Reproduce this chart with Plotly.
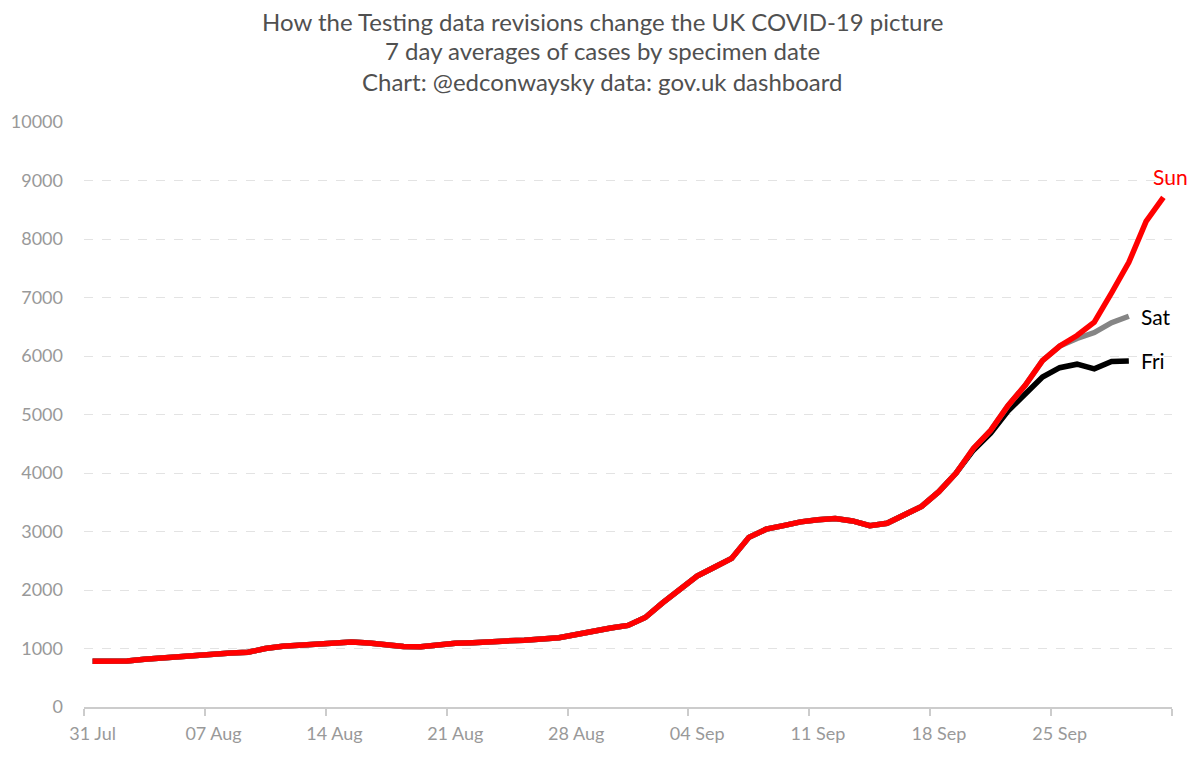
import pandas as pd
import plotly.graph_objects as go

# 7-day average cases by specimen date
start = "2020-07-31"

# history shared by all three releases (lines sit on top of each other)
common = [780, 780, 785, 815, 840, 850, 870, 905, 925, 935,
          1000, 1040, 1060, 1065, 1105, 1110, 1095, 1065, 1035, 1030,
          1070, 1090, 1100, 1125, 1130, 1140, 1165, 1185, 1240, 1300,
          1350, 1395, 1530, 1780, 2020, 2240, 2390, 2540, 2900, 3040,
          3100, 3165, 3200, 3220, 3180, 3100, 3140, 3280, 3430, 3680,
          4000]

fri_tail = [4390, 4680, 5060, 5340, 5640, 5800, 5860, 5780, 5905, 5915]
sat_tail = [4420, 4730, 5150, 5500, 5920, 6170, 6300, 6400, 6570, 6680]
sun_tail = [4420, 4730, 5150, 5500, 5920, 6170, 6350, 6580, 7080, 7600,
            8300, 8710]

fri = common + fri_tail
sat = common + sat_tail
sun = common + sun_tail

names = ["Fri", "Sat", "Sun"]
series = [fri, sat, sun]
colors = ["#000000", "#858585", "#FF0000"]
label_colors = ["#000000", "#000000", "#FF0000"]

title_lines = ["How the Testing data revisions change the UK COVID-19 picture",
               "7 day averages of cases by specimen date",
               "Chart: @edconwaysky data: gov.uk dashboard"]

FONT = "Lato"
# the page body adds an 8px margin, so the figure is drawn 8px smaller
PAD = 8
W, H = 1200 - PAD, 774 - PAD
T, B, L, R = 122 - PAD, 67, 84 - PAD, 28
plot_w = W - L - R
plot_h = H - T - B

fig = go.Figure()
for name, vals, col in zip(names, series, colors):
    dates = pd.date_range(start, periods=len(vals), freq="D")
    fig.add_trace(go.Scatter(x=dates, y=vals, mode="lines", name=name,
                             line=dict(color=col, width=5.5),
                             showlegend=False))

# end labels
for name, vals, col in zip(names, series, label_colors):
    last = pd.Timestamp(start) + pd.Timedelta(days=len(vals) - 1)
    if name == "Sun":
        fig.add_annotation(x=1, xref="paper", y=vals[-1], text=name,
                           showarrow=False, xanchor="right", yanchor="bottom",
                           xshift=18, yshift=6,
                           font=dict(family=FONT, size=21, color=col))
    else:
        fig.add_annotation(x=last, y=vals[-1], text=name, showarrow=False,
                           xanchor="left", yanchor="middle", xshift=10,
                           font=dict(family=FONT, size=21, color=col))

# title lines, centred at x=602 and these pixel heights of the screenshot
tx = (602 - PAD - L) / plot_w
for txt, ypx in zip(title_lines, [22, 51, 81]):
    fig.add_annotation(x=tx, xref="paper", y=1 + (T + PAD - ypx) / plot_h,
                       yref="paper", text=txt, showarrow=False,
                       xanchor="center", yanchor="middle", borderpad=0,
                       font=dict(family=FONT, size=24, color="#505050"))

x0 = pd.Timestamp(start) - pd.Timedelta(hours=12)
x1 = pd.Timestamp(start) + pd.Timedelta(days=len(sun) - 1, hours=12)

fig.update_layout(
    width=W, height=H,
    margin=dict(l=L, r=R, t=T, b=B),
    paper_bgcolor="white", plot_bgcolor="white",
    font=dict(family=FONT, color="#999999"),
)
fig.update_xaxes(
    range=[x0, x1], showgrid=False, automargin=False,
    showline=True, linecolor="#cccccc", linewidth=1.5,
    tickvals=pd.date_range(start, x1, freq="7D"),
    tickformat="%d %b", ticks="", ticklen=0,
    tickfont=dict(family=FONT, size=18, color="#999999"),
    ticklabelstandoff=10,
    minor=dict(ticks="outside", ticklen=7, tickcolor="#cccccc", tickwidth=1.5,
               tick0=x0, dtick=7 * 24 * 3600 * 1000, showgrid=False),
)
fig.update_yaxes(
    range=[0, 10000], dtick=1000, tickformat="d", automargin=False,
    showgrid=True, gridcolor="#e3e3e3", griddash="dash", gridwidth=1,
    zeroline=False, showline=False, ticks="",
    tickfont=dict(family=FONT, size=18, color="#999999"),
    ticklabelstandoff=20,
)

fig.write_html("out.html")
